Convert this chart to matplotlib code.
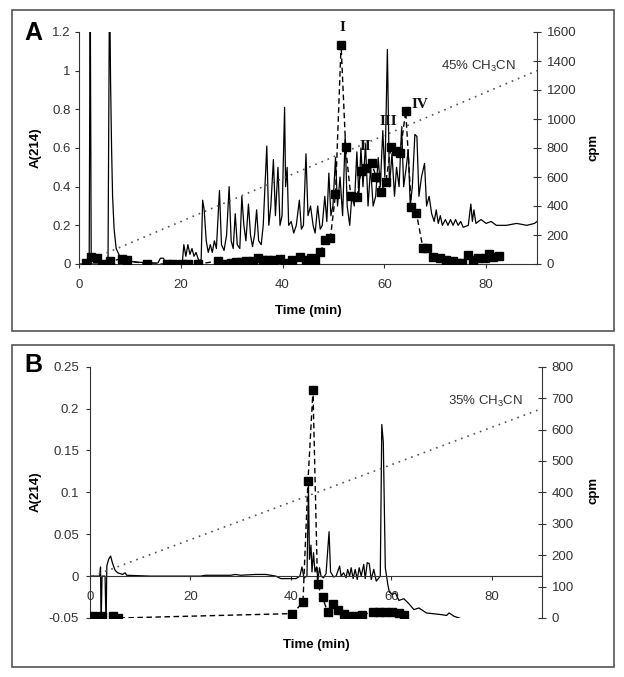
import numpy as np
import matplotlib.pyplot as plt
from matplotlib.patches import Rectangle

plt.rcParams['font.family'] = ['Liberation Sans', 'DejaVu Sans']
plt.rcParams['mathtext.fontset'] = 'custom'
plt.rcParams['mathtext.rm'] = 'Liberation Sans'

# ---- panel A data ----
t_a = [0, 2.0, 2.2, 2.4, 5.7, 6.0, 6.2, 6.4, 6.6, 6.9, 7.3, 8.0, 9.0, 11.0, 15.5, 16.0, 16.6, 17.0,
       20.3, 20.6, 21.0, 21.4, 21.8, 22.2, 22.6, 23.0, 23.5, 24.0, 24.3, 24.6, 25.0, 25.4, 25.8,
       26.2, 26.6, 27.0, 27.6, 28.0, 28.5, 29.0, 29.5, 29.9, 30.3, 30.7, 31.1, 31.6, 32.0, 32.4,
       32.8, 33.3, 33.7, 34.1, 34.5, 34.9, 35.3, 35.8, 36.2, 36.9, 37.3, 37.7, 38.2, 38.6, 39.1,
       39.5, 39.9, 40.4, 40.6, 40.9, 41.2, 41.7, 42.2, 42.7, 43.3, 43.7, 44.1, 44.6, 45.0, 45.5,
       46.0, 46.4, 46.9, 47.4, 47.8, 48.3, 48.7, 49.1, 49.5, 49.9, 50.4, 50.8, 51.3, 51.8, 52.3,
       52.7, 53.2, 53.6, 54.1, 54.6, 55.0, 55.4, 55.8, 56.3, 56.8, 57.3, 57.8, 58.3, 58.8, 59.2,
       59.7, 60.1, 60.6, 61.0, 61.5, 62.0, 62.4, 62.9, 63.4, 63.8, 64.3, 64.7, 65.1, 65.5, 66.0,
       66.4, 66.8, 67.3, 67.9, 68.3, 68.8, 69.3, 69.8, 70.2, 70.6, 71.0, 71.4, 72.0, 72.5, 73.0,
       73.5, 74.0, 74.5, 75.0, 75.5, 76.5, 77.0, 77.3, 77.6, 78.0, 79.0, 80.0, 81.0, 82.0, 84.0,
       86.0, 88.0, 89.5, 90.0]
abs_a = [0, 0, 1.5, 0, 0, 1.5, 0.95, 0.6, 0.35, 0.18, 0.08, 0.04, 0.02, 0.01, 0.005, 0.03, 0.03, 0.005,
         0.005, 0.1, 0.04, 0.1, 0.05, 0.08, 0.04, 0.06, 0.02, 0.02, 0.33, 0.28, 0.12, 0.06, 0.1,
         0.06, 0.12, 0.08, 0.38, 0.1, 0.07, 0.15, 0.40, 0.12, 0.08, 0.26, 0.1, 0.08, 0.35, 0.2,
         0.12, 0.31, 0.15, 0.09, 0.15, 0.28, 0.12, 0.1, 0.2, 0.61, 0.2, 0.3, 0.54, 0.25, 0.5,
         0.2, 0.25, 0.81, 0.4, 0.5, 0.2, 0.22, 0.16, 0.2, 0.33, 0.18, 0.2, 0.57, 0.25, 0.3,
         0.2, 0.16, 0.3, 0.18, 0.2, 0.35, 0.22, 0.47, 0.25, 0.3, 0.55, 0.3, 0.45, 0.25, 0.66,
         0.3, 0.2, 0.35, 0.3, 0.58, 0.35, 0.6, 0.4, 0.62, 0.3, 0.5, 0.3, 0.35, 0.55, 0.4,
         0.69, 0.45, 1.11, 0.4, 0.57, 0.35, 0.5, 0.4, 0.71, 0.4, 0.5, 0.59, 0.3, 0.4, 0.67,
         0.66, 0.35, 0.45, 0.52, 0.3, 0.35, 0.26, 0.22, 0.28, 0.21, 0.25, 0.2, 0.23, 0.2, 0.23,
         0.2, 0.23, 0.2, 0.22, 0.19, 0.2, 0.31, 0.22, 0.28, 0.21, 0.23, 0.21, 0.22, 0.2, 0.2,
         0.21, 0.2, 0.21, 0.22]

t_cpm_a = [1.3, 2.3, 3.5, 4.5, 6.1, 8.4, 9.4, 13.3, 17.2, 18.5, 20.2, 21.5, 23.4, 27.3, 28.9, 29.9,
           30.9, 31.9, 32.9, 34.2, 35.2, 36.2, 37.2, 38.2, 39.5, 40.4, 41.8, 43.4, 44.7, 45.6, 46.4,
           47.4, 48.4, 49.4, 50.4, 51.5, 52.4, 53.4, 54.6, 55.4, 56.4, 57.5, 58.4, 59.3, 60.3,
           61.3, 62.3, 63.1, 64.2, 65.3, 66.3, 67.6, 68.4, 69.6, 70.9, 72.2, 73.5, 74.3, 75.3,
           76.5, 77.4, 78.5, 79.7, 80.5, 81.3, 82.5]
cpm_a = [5, 45, 40, 0, 20, 35, 25, 0, 0, 0, 0, 0, 0, 20, 0, 5,
         15, 15, 20, 20, 40, 30, 30, 30, 35, 10, 25, 50, 25, 40, 20,
         80, 165, 180, 480, 1510, 805, 470, 460, 640, 660, 695, 600, 500, 565,
         810, 780, 765, 1055, 395, 350, 108, 108, 50, 40, 30, 20, 5, 10,
         60, 25, 40, 40, 70, 45, 55]

grad_a_t = [3, 90]
grad_a_y = [0.03, 1.0]
peaks_a = ['I', 'II', 'III', 'IV']
peaks_a_t = [51.7, 56.2, 60.8, 67.0]
peaks_a_cpm = [1630, 810, 986, 1103]

# ---- panel B data ----
t_b = [0.0, 1.9, 2.1, 2.2, 2.4, 3.0, 3.2, 3.35, 3.7, 4.1, 4.5, 5.0, 5.5, 6.5, 7.0, 7.3, 12.0, 22.0,
       23.0, 28.0, 29.0, 30.0, 33.0, 35.0, 37.0, 38.0, 41.0, 41.8, 42.2, 42.6, 43.2, 43.5, 43.7,
       44.0, 44.2, 44.5, 44.8, 45.1, 45.4, 45.7, 46.0, 46.5, 47.0, 47.6, 47.9, 48.5, 49.0, 49.7,
       50.0, 50.5, 51.0, 51.3, 51.7, 52.0, 52.4, 52.8, 53.2, 53.6, 54.0, 54.5, 54.8, 55.2, 55.6,
       56.0, 56.5, 57.0, 57.8, 58.1, 58.4, 58.8, 59.3, 59.6, 60.2, 60.8, 61.5, 62.5, 63.5, 64.5,
       65.5, 67.0, 68.5, 70.0, 71.0, 71.5, 72.5, 74.0]
abs_b = [0.0, 0.0, 0.011, -0.06, 0.0, 0.0, -0.06, 0.012, 0.02, 0.024, 0.015, 0.007, 0.004, 0.002,
         0.004, 0.001, 0.0, 0.0, 0.001, 0.001, 0.002, 0.001, 0.002, 0.002, 0.0, -0.003, -0.003,
         0.0, 0.011, -0.002, 0.0, 0.108, 0.02, 0.037, 0.005, 0.028, 0.005, 0.011, -0.004, 0.01,
         0.0, -0.002, 0.003, 0.053, 0.005, -0.001, 0.0, 0.012, 0.0, 0.004, -0.002, 0.008, 0.0,
         0.01, -0.003, 0.008, -0.004, 0.01, 0.0, 0.014, -0.003, 0.016, 0.015, -0.004, 0.008,
         -0.006, 0.0, 0.181, 0.16, 0.01, -0.01, -0.019, -0.022, -0.02, -0.029, -0.027, -0.033,
         -0.04, -0.038, -0.044, -0.045, -0.046, -0.047, -0.044, -0.048, -0.051]

t_cpm_b = [0.5, 2.3, 4.6, 5.6, 40.3, 42.4, 43.4, 44.4, 45.3, 46.3, 47.3, 48.3, 49.4, 50.5, 51.6,
           52.9, 54.2, 56.4, 57.5, 58.8, 60.2, 61.5, 62.5]
cpm_b = [5, 5, 5, 0, 14, 50, 435, 725, 108, 66, 19, 44, 27, 12, 5,
         5, 10, 20, 20, 20, 20, 15, 8]

grad_b_t = [0.5, 90]
grad_b_y = [0.0, 0.2]

W, H = 624, 677


def fx(px):
    return px / W


def fy(py):
    return 1 - py / H


fig = plt.figure(figsize=(6.24, 6.77), dpi=100)
grey = '#333333'
dash = (0, (4, 2.5))
dots = (0, (1, 3))

for top, bot in [(10, 331), (345, 667)]:
    fig.add_artist(Rectangle((fx(12), fy(bot)), (614 - 12) / W, (bot - top) / H,
                             transform=fig.transFigure, fill=False, ec='#555555', lw=1.2))

# ---------------- panel A ----------------
axA = fig.add_axes([fx(79), fy(264), (537 - 79) / W, (264 - 32) / H])
axA.plot(t_a, abs_a, color='black', lw=0.9)
axA.plot(grad_a_t, grad_a_y, color='#555555', ls=dots, lw=1.2)
axA.set_xlim(0, 90)
axA.set_ylim(0, 1.2)
yt = [0, 0.2, 0.4, 0.6, 0.8, 1.0, 1.2]
axA.set_yticks(yt, ['%g' % v for v in yt])
axA.set_xticks([0, 20, 40, 60, 80])
for s in ['top', 'right']:
    axA.spines[s].set_visible(False)
for s in ['left', 'bottom']:
    axA.spines[s].set_color(grey)
axA.tick_params(axis='y', direction='out', length=3, pad=3, labelsize=9.5, colors=grey)
axA.tick_params(axis='x', direction='out', length=3, pad=8, labelsize=9.5, colors=grey)
axA.text(78.5, 1.02, '45% CH$_\\mathregular{3}$CN', fontsize=9.5, color=grey, ha='center', va='center')

axA2 = axA.twinx()
axA2.plot(t_cpm_a, cpm_a, color='black', ls=dash, lw=1, marker='s', ms=5.5)
axA2.set_ylim(0, 1600)
axA2.set_yticks(range(0, 1601, 200))
for s in ['top', 'left', 'bottom']:
    axA2.spines[s].set_visible(False)
axA2.spines['right'].set_color(grey)
axA2.tick_params(axis='y', direction='inout', length=6, pad=4, labelsize=9.5, colors=grey)
for lab, tt, cc in zip(peaks_a, peaks_a_t, peaks_a_cpm):
    axA2.text(tt, cc, lab, family='Liberation Serif', fontweight='bold', fontsize=11,
              ha='center', va='center', color='#111111')

fig.text(fx(33), fy(33), 'A', fontsize=18, fontweight='bold', ha='center', va='center')
fig.text(fx(36), fy(148), 'A(214)', fontsize=9.5, fontweight='bold', rotation=90, ha='center', va='center')
fig.text(fx(593), fy(147), 'cpm', fontsize=9.5, fontweight='bold', rotation=90, ha='center', va='center')
fig.text(fx(308), fy(311), 'Time (min)', fontsize=9.5, fontweight='bold', ha='center', va='center')

# ---------------- panel B ----------------
axB = fig.add_axes([fx(90), fy(618), (542 - 90) / W, (618 - 366.7) / H])
axB.plot(t_b, abs_b, color='black', lw=0.9)
axB.plot(grad_b_t, grad_b_y, color='#555555', ls=dots, lw=1.2)
axB.set_xlim(0, 90)
axB.set_ylim(-0.05, 0.25)
ytb = [-0.05, 0, 0.05, 0.1, 0.15, 0.2, 0.25]
axB.set_yticks(ytb, ['%g' % v for v in ytb])
axB.set_xticks([0, 20, 40, 60, 80])
axB.spines['bottom'].set_position(('data', 0))
for s in ['top', 'right']:
    axB.spines[s].set_visible(False)
for s in ['left', 'bottom']:
    axB.spines[s].set_color(grey)
axB.tick_params(axis='y', direction='out', length=3, pad=5, labelsize=9.5, colors=grey)
axB.tick_params(axis='x', direction='out', length=3, pad=8, labelsize=9.5, colors=grey)
axB.text(78.8, 0.208, '35% CH$_\\mathregular{3}$CN', fontsize=9.5, color=grey, ha='center', va='center')

axB2 = axB.twinx()
axB2.plot(t_cpm_b, cpm_b, color='black', ls=dash, lw=1, marker='s', ms=5.5)
axB2.set_ylim(0, 800)
axB2.set_yticks(range(0, 801, 100))
for s in ['top', 'left', 'bottom']:
    axB2.spines[s].set_visible(False)
axB2.spines['right'].set_color(grey)
axB2.tick_params(axis='y', direction='inout', length=6, pad=4, labelsize=9.5, colors=grey)

fig.text(fx(33), fy(365), 'B', fontsize=18, fontweight='bold', ha='center', va='center')
fig.text(fx(36), fy(492), 'A(214)', fontsize=9.5, fontweight='bold', rotation=90, ha='center', va='center')
fig.text(fx(593), fy(490), 'cpm', fontsize=9.5, fontweight='bold', rotation=90, ha='center', va='center')
fig.text(fx(316), fy(645), 'Time (min)', fontsize=9.5, fontweight='bold', ha='center', va='center')

fig.savefig('out.png', dpi=100)
